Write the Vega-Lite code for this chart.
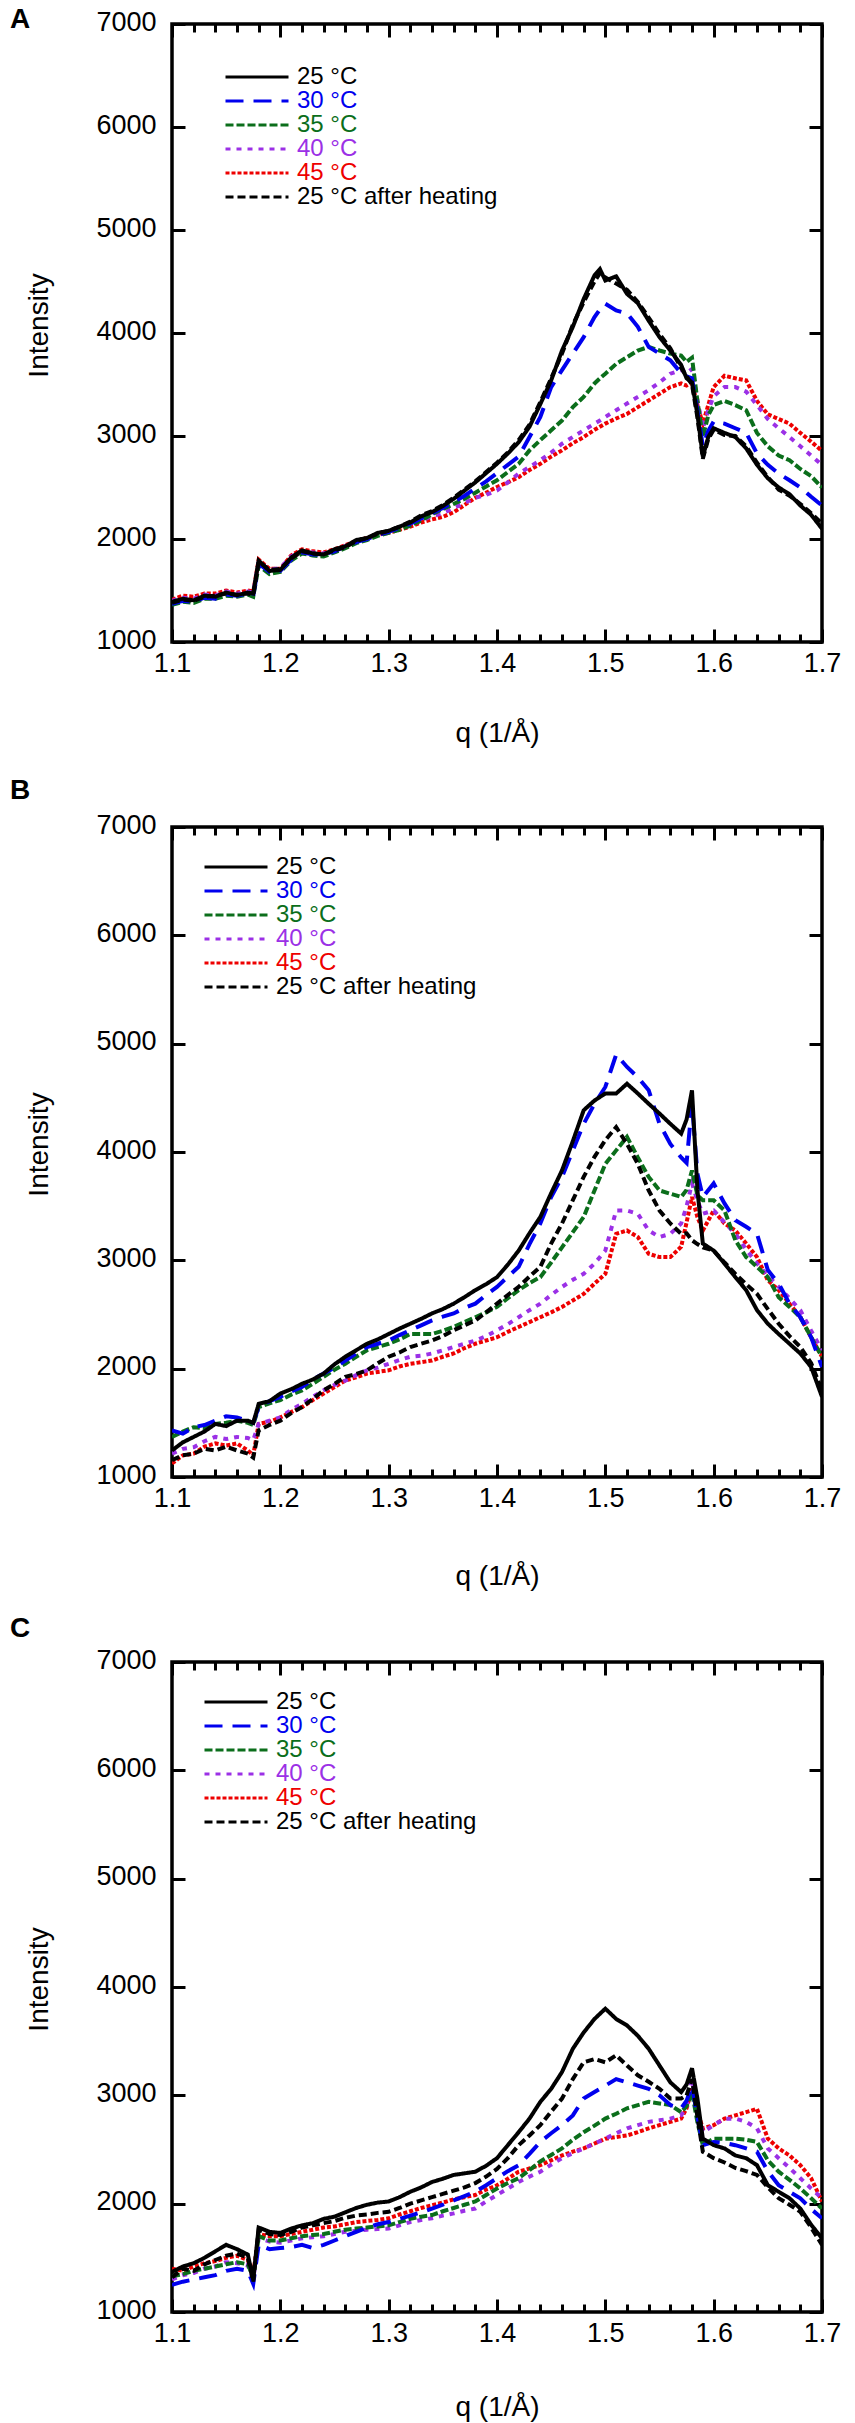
{
  "$schema": "https://vega.github.io/schema/vega-lite/v6.json",
  "padding": {"top": 4, "left": 8, "right": 0, "bottom": 0},
  "config": {
    "font": "Liberation Sans",
    "view": {"stroke": "black", "strokeWidth": 3.5},
    "axis": {
      "grid": false,
      "domain": false,
      "tickColor": "black",
      "tickWidth": 3,
      "labelFont": "Liberation Sans",
      "labelFontSize": 27,
      "labelColor": "black",
      "labelFlush": false,
      "labelOverlap": false,
      "titleFont": "Liberation Sans",
      "titleFontSize": 28,
      "titleFontWeight": "normal",
      "titleColor": "black"
    },
    "title": {"font": "Liberation Sans", "fontSize": 28, "fontWeight": "bold", "anchor": "start", "frame": "group", "baseline": "alphabetic", "color": "black"}
  },
  "datasets": {
    "A": [
      {"q":1.10,"T25":1390,"T30":1370,"T35":1360,"T40":1400,"T45":1410,"T25h":1380},
      {"q":1.11,"T25":1420,"T30":1400,"T35":1390,"T40":1430,"T45":1450,"T25h":1410},
      {"q":1.12,"T25":1405,"T30":1390,"T35":1380,"T40":1420,"T45":1440,"T25h":1400},
      {"q":1.13,"T25":1450,"T30":1430,"T35":1420,"T40":1460,"T45":1470,"T25h":1440},
      {"q":1.14,"T25":1440,"T30":1420,"T35":1420,"T40":1450,"T45":1470,"T25h":1450},
      {"q":1.15,"T25":1480,"T30":1460,"T35":1450,"T40":1490,"T45":1500,"T25h":1470},
      {"q":1.16,"T25":1455,"T30":1450,"T35":1440,"T40":1470,"T45":1480,"T25h":1460},
      {"q":1.17,"T25":1480,"T30":1470,"T35":1460,"T40":1490,"T45":1500,"T25h":1470},
      {"q":1.175,"T25":1470,"T30":1450,"T35":1440,"T40":1480,"T45":1490,"T25h":1460},
      {"q":1.18,"T25":1790,"T30":1760,"T35":1740,"T40":1780,"T45":1800,"T25h":1780},
      {"q":1.19,"T25":1690,"T30":1680,"T35":1660,"T40":1700,"T45":1710,"T25h":1700},
      {"q":1.20,"T25":1700,"T30":1690,"T35":1680,"T40":1720,"T45":1710,"T25h":1710},
      {"q":1.21,"T25":1820,"T30":1800,"T35":1790,"T40":1830,"T45":1840,"T25h":1810},
      {"q":1.22,"T25":1890,"T30":1870,"T35":1860,"T40":1880,"T45":1900,"T25h":1880},
      {"q":1.23,"T25":1860,"T30":1850,"T35":1840,"T40":1870,"T45":1880,"T25h":1860},
      {"q":1.24,"T25":1850,"T30":1850,"T35":1830,"T40":1860,"T45":1870,"T25h":1850},
      {"q":1.25,"T25":1900,"T30":1880,"T35":1870,"T40":1890,"T45":1900,"T25h":1890},
      {"q":1.26,"T25":1930,"T30":1930,"T35":1910,"T40":1930,"T45":1940,"T25h":1920},
      {"q":1.27,"T25":1990,"T30":1970,"T35":1960,"T40":1980,"T45":1980,"T25h":1980},
      {"q":1.28,"T25":2010,"T30":2000,"T35":1990,"T40":2000,"T45":2010,"T25h":2010},
      {"q":1.29,"T25":2060,"T30":2040,"T35":2030,"T40":2040,"T45":2040,"T25h":2050},
      {"q":1.30,"T25":2080,"T30":2070,"T35":2060,"T40":2060,"T45":2060,"T25h":2080},
      {"q":1.31,"T25":2120,"T30":2110,"T35":2090,"T40":2100,"T45":2090,"T25h":2120},
      {"q":1.32,"T25":2160,"T30":2150,"T35":2130,"T40":2130,"T45":2120,"T25h":2170},
      {"q":1.33,"T25":2220,"T30":2200,"T35":2180,"T40":2180,"T45":2160,"T25h":2230},
      {"q":1.34,"T25":2260,"T30":2250,"T35":2240,"T40":2220,"T45":2190,"T25h":2270},
      {"q":1.35,"T25":2320,"T30":2300,"T35":2290,"T40":2250,"T45":2215,"T25h":2330},
      {"q":1.36,"T25":2390,"T30":2360,"T35":2340,"T40":2300,"T45":2260,"T25h":2400},
      {"q":1.37,"T25":2470,"T30":2420,"T35":2390,"T40":2350,"T45":2330,"T25h":2480},
      {"q":1.38,"T25":2550,"T30":2490,"T35":2450,"T40":2400,"T45":2400,"T25h":2560},
      {"q":1.39,"T25":2640,"T30":2560,"T35":2510,"T40":2430,"T45":2450,"T25h":2650},
      {"q":1.40,"T25":2730,"T30":2640,"T35":2570,"T40":2470,"T45":2505,"T25h":2740},
      {"q":1.41,"T25":2830,"T30":2720,"T35":2650,"T40":2550,"T45":2550,"T25h":2840},
      {"q":1.42,"T25":2940,"T30":2800,"T35":2730,"T40":2635,"T45":2600,"T25h":2960},
      {"q":1.43,"T25":3090,"T30":2990,"T35":2860,"T40":2700,"T45":2670,"T25h":3110},
      {"q":1.44,"T25":3310,"T30":3185,"T35":2960,"T40":2765,"T45":2730,"T25h":3330},
      {"q":1.45,"T25":3540,"T30":3475,"T35":3055,"T40":2840,"T45":2800,"T25h":3560},
      {"q":1.46,"T25":3830,"T30":3640,"T35":3150,"T40":2925,"T45":2860,"T25h":3800},
      {"q":1.47,"T25":4060,"T30":3800,"T35":3280,"T40":2990,"T45":2930,"T25h":4080},
      {"q":1.48,"T25":4330,"T30":3960,"T35":3380,"T40":3055,"T45":2990,"T25h":4300},
      {"q":1.49,"T25":4560,"T30":4155,"T35":3510,"T40":3120,"T45":3060,"T25h":4500},
      {"q":1.495,"T25":4620,"T30":4230,"T35":3560,"T40":3150,"T45":3090,"T25h":4580},
      {"q":1.50,"T25":4510,"T30":4285,"T35":3605,"T40":3185,"T45":3120,"T25h":4540},
      {"q":1.51,"T25":4550,"T30":4220,"T35":3700,"T40":3250,"T45":3170,"T25h":4480},
      {"q":1.52,"T25":4380,"T30":4190,"T35":3765,"T40":3315,"T45":3215,"T25h":4420},
      {"q":1.53,"T25":4290,"T30":4060,"T35":3830,"T40":3380,"T45":3280,"T25h":4300},
      {"q":1.54,"T25":4120,"T30":3865,"T35":3865,"T40":3445,"T45":3345,"T25h":4150},
      {"q":1.55,"T25":3960,"T30":3800,"T35":3830,"T40":3520,"T45":3410,"T25h":3990},
      {"q":1.56,"T25":3830,"T30":3735,"T35":3800,"T40":3605,"T45":3475,"T25h":3850},
      {"q":1.57,"T25":3690,"T30":3610,"T35":3780,"T40":3640,"T45":3510,"T25h":3660},
      {"q":1.575,"T25":3560,"T30":3580,"T35":3720,"T40":3610,"T45":3490,"T25h":3580},
      {"q":1.58,"T25":3520,"T30":3560,"T35":3760,"T40":3650,"T45":3520,"T25h":3500},
      {"q":1.585,"T25":3210,"T30":3250,"T35":3340,"T40":3350,"T45":3300,"T25h":3180},
      {"q":1.59,"T25":2800,"T30":2900,"T35":2990,"T40":3075,"T45":3120,"T25h":2780},
      {"q":1.595,"T25":2990,"T30":3050,"T35":3200,"T40":3250,"T45":3300,"T25h":2970},
      {"q":1.60,"T25":3075,"T30":3140,"T35":3300,"T40":3385,"T45":3475,"T25h":3060},
      {"q":1.61,"T25":3030,"T30":3120,"T35":3340,"T40":3475,"T45":3585,"T25h":3010},
      {"q":1.62,"T25":2990,"T30":3075,"T35":3300,"T40":3475,"T45":3560,"T25h":3000},
      {"q":1.63,"T25":2880,"T30":3030,"T35":3250,"T40":3430,"T45":3540,"T25h":2900},
      {"q":1.64,"T25":2720,"T30":2830,"T35":3030,"T40":3300,"T45":3340,"T25h":2740},
      {"q":1.65,"T25":2590,"T30":2720,"T35":2900,"T40":3165,"T45":3210,"T25h":2600},
      {"q":1.66,"T25":2500,"T30":2635,"T35":2810,"T40":3075,"T45":3165,"T25h":2480},
      {"q":1.67,"T25":2435,"T30":2570,"T35":2765,"T40":2990,"T45":3120,"T25h":2420},
      {"q":1.68,"T25":2325,"T30":2500,"T35":2680,"T40":2900,"T45":3030,"T25h":2340},
      {"q":1.69,"T25":2235,"T30":2410,"T35":2610,"T40":2810,"T45":2945,"T25h":2250},
      {"q":1.70,"T25":2100,"T30":2325,"T35":2500,"T40":2720,"T45":2855,"T25h":2150}
    ],
    "B": [
      {"q":1.10,"T25":1245,"T30":1430,"T35":1370,"T40":1215,"T45":1125,"T25h":1155},
      {"q":1.11,"T25":1320,"T30":1400,"T35":1420,"T40":1260,"T45":1200,"T25h":1200},
      {"q":1.12,"T25":1370,"T30":1460,"T35":1460,"T40":1275,"T45":1215,"T25h":1215},
      {"q":1.13,"T25":1420,"T30":1480,"T35":1450,"T40":1330,"T45":1280,"T25h":1260},
      {"q":1.14,"T25":1490,"T30":1520,"T35":1490,"T40":1370,"T45":1310,"T25h":1245},
      {"q":1.15,"T25":1470,"T30":1560,"T35":1500,"T40":1350,"T45":1290,"T25h":1280},
      {"q":1.16,"T25":1520,"T30":1550,"T35":1520,"T40":1370,"T45":1310,"T25h":1245},
      {"q":1.17,"T25":1520,"T30":1520,"T35":1500,"T40":1360,"T45":1245,"T25h":1215},
      {"q":1.175,"T25":1500,"T30":1500,"T35":1480,"T40":1340,"T45":1200,"T25h":1180},
      {"q":1.18,"T25":1675,"T30":1645,"T35":1645,"T40":1490,"T45":1490,"T25h":1430},
      {"q":1.19,"T25":1700,"T30":1700,"T35":1680,"T40":1520,"T45":1510,"T25h":1480},
      {"q":1.20,"T25":1770,"T30":1740,"T35":1710,"T40":1550,"T45":1550,"T25h":1520},
      {"q":1.21,"T25":1810,"T30":1790,"T35":1760,"T40":1620,"T45":1600,"T25h":1590},
      {"q":1.22,"T25":1860,"T30":1830,"T35":1800,"T40":1675,"T45":1645,"T25h":1645},
      {"q":1.23,"T25":1900,"T30":1900,"T35":1860,"T40":1740,"T45":1710,"T25h":1720},
      {"q":1.24,"T25":1955,"T30":1955,"T35":1925,"T40":1800,"T45":1770,"T25h":1800},
      {"q":1.25,"T25":2040,"T30":2010,"T35":1990,"T40":1850,"T45":1830,"T25h":1860},
      {"q":1.26,"T25":2110,"T30":2075,"T35":2045,"T40":1890,"T45":1890,"T25h":1925},
      {"q":1.27,"T25":2170,"T30":2140,"T35":2110,"T40":1940,"T45":1920,"T25h":1950},
      {"q":1.28,"T25":2230,"T30":2200,"T35":2170,"T40":1985,"T45":1955,"T25h":1985},
      {"q":1.29,"T25":2270,"T30":2230,"T35":2200,"T40":2010,"T45":1970,"T25h":2050},
      {"q":1.30,"T25":2320,"T30":2260,"T35":2230,"T40":2045,"T45":1985,"T25h":2110},
      {"q":1.31,"T25":2370,"T30":2310,"T35":2270,"T40":2080,"T45":2020,"T25h":2150},
      {"q":1.32,"T25":2415,"T30":2355,"T35":2320,"T40":2110,"T45":2045,"T25h":2200},
      {"q":1.33,"T25":2460,"T30":2400,"T35":2320,"T40":2120,"T45":2060,"T25h":2230},
      {"q":1.34,"T25":2510,"T30":2445,"T35":2320,"T40":2140,"T45":2075,"T25h":2260},
      {"q":1.35,"T25":2550,"T30":2480,"T35":2350,"T40":2170,"T45":2110,"T25h":2300},
      {"q":1.36,"T25":2600,"T30":2510,"T35":2385,"T40":2200,"T45":2140,"T25h":2355},
      {"q":1.37,"T25":2660,"T30":2560,"T35":2430,"T40":2230,"T45":2190,"T25h":2400},
      {"q":1.38,"T25":2725,"T30":2600,"T35":2475,"T40":2260,"T45":2230,"T25h":2445},
      {"q":1.39,"T25":2780,"T30":2680,"T35":2520,"T40":2300,"T45":2260,"T25h":2520},
      {"q":1.40,"T25":2845,"T30":2755,"T35":2570,"T40":2355,"T45":2290,"T25h":2600},
      {"q":1.41,"T25":2960,"T30":2850,"T35":2650,"T40":2410,"T45":2340,"T25h":2680},
      {"q":1.42,"T25":3090,"T30":2940,"T35":2725,"T40":2475,"T45":2385,"T25h":2755},
      {"q":1.43,"T25":3250,"T30":3150,"T35":2790,"T40":2540,"T45":2430,"T25h":2850},
      {"q":1.44,"T25":3400,"T30":3340,"T35":2845,"T40":2600,"T45":2475,"T25h":2940},
      {"q":1.45,"T25":3620,"T30":3585,"T35":2980,"T40":2680,"T45":2520,"T25h":3155},
      {"q":1.46,"T25":3830,"T30":3770,"T35":3120,"T40":2755,"T45":2570,"T25h":3340},
      {"q":1.47,"T25":4100,"T30":4015,"T35":3260,"T40":2820,"T45":2630,"T25h":3555},
      {"q":1.48,"T25":4385,"T30":4260,"T35":3400,"T40":2875,"T45":2690,"T25h":3770},
      {"q":1.49,"T25":4475,"T30":4445,"T35":3645,"T40":2970,"T45":2785,"T25h":3955},
      {"q":1.50,"T25":4540,"T30":4600,"T35":3890,"T40":3090,"T45":2875,"T25h":4110},
      {"q":1.51,"T25":4540,"T30":4900,"T35":4015,"T40":3460,"T45":3245,"T25h":4230},
      {"q":1.52,"T25":4630,"T30":4785,"T35":4140,"T40":3460,"T45":3275,"T25h":4075},
      {"q":1.53,"T25":4540,"T30":4690,"T35":3950,"T40":3430,"T45":3215,"T25h":3890},
      {"q":1.54,"T25":4445,"T30":4570,"T35":3770,"T40":3275,"T45":3060,"T25h":3645},
      {"q":1.55,"T25":4355,"T30":4260,"T35":3645,"T40":3215,"T45":3030,"T25h":3460},
      {"q":1.56,"T25":4260,"T30":4075,"T35":3615,"T40":3245,"T45":3030,"T25h":3340},
      {"q":1.57,"T25":4170,"T30":3950,"T35":3585,"T40":3340,"T45":3125,"T25h":3245},
      {"q":1.575,"T25":4300,"T30":3900,"T35":3650,"T40":3500,"T45":3350,"T25h":3250},
      {"q":1.58,"T25":4570,"T30":4445,"T35":3830,"T40":3710,"T45":3585,"T25h":3185},
      {"q":1.585,"T25":3650,"T30":3800,"T35":3600,"T40":3550,"T45":3400,"T25h":3150},
      {"q":1.59,"T25":3155,"T30":3585,"T35":3555,"T40":3430,"T45":3275,"T25h":3120},
      {"q":1.60,"T25":3090,"T30":3710,"T35":3555,"T40":3460,"T45":3460,"T25h":3090},
      {"q":1.61,"T25":2970,"T30":3525,"T35":3460,"T40":3350,"T45":3340,"T25h":2980},
      {"q":1.62,"T25":2845,"T30":3370,"T35":3185,"T40":3245,"T45":3275,"T25h":2875},
      {"q":1.63,"T25":2725,"T30":3310,"T35":3030,"T40":3100,"T45":3155,"T25h":2780},
      {"q":1.64,"T25":2540,"T30":3245,"T35":2940,"T40":2970,"T45":3030,"T25h":2690},
      {"q":1.65,"T25":2415,"T30":2910,"T35":2845,"T40":2860,"T45":2815,"T25h":2550},
      {"q":1.66,"T25":2320,"T30":2785,"T35":2660,"T40":2755,"T45":2725,"T25h":2415},
      {"q":1.67,"T25":2230,"T30":2600,"T35":2570,"T40":2650,"T45":2600,"T25h":2300},
      {"q":1.68,"T25":2140,"T30":2475,"T35":2475,"T40":2540,"T45":2475,"T25h":2200},
      {"q":1.69,"T25":2015,"T30":2290,"T35":2290,"T40":2350,"T45":2290,"T25h":2050},
      {"q":1.70,"T25":1740,"T30":2015,"T35":2110,"T40":2170,"T45":2110,"T25h":1800}
    ],
    "C": [
      {"q":1.10,"T25":1370,"T30":1250,"T35":1330,"T40":1300,"T45":1400,"T25h":1320},
      {"q":1.11,"T25":1420,"T30":1280,"T35":1350,"T40":1340,"T45":1380,"T25h":1400},
      {"q":1.12,"T25":1450,"T30":1300,"T35":1380,"T40":1360,"T45":1420,"T25h":1380},
      {"q":1.13,"T25":1500,"T30":1320,"T35":1400,"T40":1400,"T45":1450,"T25h":1440},
      {"q":1.14,"T25":1560,"T30":1340,"T35":1420,"T40":1420,"T45":1470,"T25h":1480},
      {"q":1.15,"T25":1620,"T30":1380,"T35":1440,"T40":1460,"T45":1500,"T25h":1520},
      {"q":1.16,"T25":1580,"T30":1400,"T35":1460,"T40":1450,"T45":1520,"T25h":1540},
      {"q":1.17,"T25":1530,"T30":1380,"T35":1440,"T40":1430,"T45":1480,"T25h":1500},
      {"q":1.175,"T25":1300,"T30":1260,"T35":1320,"T40":1300,"T45":1350,"T25h":1280},
      {"q":1.18,"T25":1780,"T30":1620,"T35":1700,"T40":1680,"T45":1720,"T25h":1760},
      {"q":1.19,"T25":1740,"T30":1580,"T35":1660,"T40":1650,"T45":1700,"T25h":1720},
      {"q":1.20,"T25":1730,"T30":1590,"T35":1660,"T40":1640,"T45":1700,"T25h":1710},
      {"q":1.21,"T25":1770,"T30":1600,"T35":1680,"T40":1660,"T45":1720,"T25h":1740},
      {"q":1.22,"T25":1800,"T30":1620,"T35":1700,"T40":1680,"T45":1740,"T25h":1780},
      {"q":1.23,"T25":1820,"T30":1590,"T35":1710,"T40":1690,"T45":1760,"T25h":1800},
      {"q":1.24,"T25":1860,"T30":1620,"T35":1720,"T40":1700,"T45":1780,"T25h":1820},
      {"q":1.25,"T25":1880,"T30":1660,"T35":1740,"T40":1720,"T45":1790,"T25h":1840},
      {"q":1.26,"T25":1920,"T30":1700,"T35":1760,"T40":1740,"T45":1810,"T25h":1870},
      {"q":1.27,"T25":1960,"T30":1740,"T35":1770,"T40":1750,"T45":1830,"T25h":1890},
      {"q":1.28,"T25":1990,"T30":1780,"T35":1780,"T40":1760,"T45":1840,"T25h":1900},
      {"q":1.29,"T25":2010,"T30":1810,"T35":1790,"T40":1765,"T45":1850,"T25h":1915},
      {"q":1.30,"T25":2020,"T30":1830,"T35":1800,"T40":1770,"T45":1865,"T25h":1925},
      {"q":1.31,"T25":2060,"T30":1860,"T35":1830,"T40":1800,"T45":1900,"T25h":1960},
      {"q":1.32,"T25":2110,"T30":1890,"T35":1860,"T40":1830,"T45":1930,"T25h":2000},
      {"q":1.33,"T25":2150,"T30":1920,"T35":1880,"T40":1850,"T45":1960,"T25h":2030},
      {"q":1.34,"T25":2200,"T30":1955,"T35":1895,"T40":1865,"T45":1985,"T25h":2060},
      {"q":1.35,"T25":2230,"T30":1990,"T35":1930,"T40":1890,"T45":2010,"T25h":2090},
      {"q":1.36,"T25":2265,"T30":2030,"T35":1960,"T40":1910,"T45":2040,"T25h":2120},
      {"q":1.37,"T25":2280,"T30":2070,"T35":1990,"T40":1935,"T45":2060,"T25h":2150},
      {"q":1.38,"T25":2295,"T30":2110,"T35":2020,"T40":1955,"T45":2080,"T25h":2190},
      {"q":1.39,"T25":2350,"T30":2170,"T35":2080,"T40":2020,"T45":2130,"T25h":2250},
      {"q":1.40,"T25":2420,"T30":2235,"T35":2140,"T40":2080,"T45":2170,"T25h":2320},
      {"q":1.41,"T25":2540,"T30":2300,"T35":2190,"T40":2140,"T45":2230,"T25h":2420},
      {"q":1.42,"T25":2660,"T30":2355,"T35":2235,"T40":2200,"T45":2295,"T25h":2540},
      {"q":1.43,"T25":2785,"T30":2460,"T35":2310,"T40":2250,"T45":2325,"T25h":2630},
      {"q":1.44,"T25":2940,"T30":2570,"T35":2390,"T40":2295,"T45":2355,"T25h":2725},
      {"q":1.45,"T25":3060,"T30":2650,"T35":2450,"T40":2360,"T45":2400,"T25h":2850},
      {"q":1.46,"T25":3215,"T30":2725,"T35":2510,"T40":2420,"T45":2445,"T25h":2970},
      {"q":1.47,"T25":3430,"T30":2815,"T35":2590,"T40":2465,"T45":2480,"T25h":3150},
      {"q":1.48,"T25":3580,"T30":2970,"T35":2660,"T40":2510,"T45":2510,"T25h":3305},
      {"q":1.49,"T25":3705,"T30":3030,"T35":2720,"T40":2555,"T45":2555,"T25h":3335},
      {"q":1.50,"T25":3800,"T30":3090,"T35":2785,"T40":2600,"T45":2600,"T25h":3305},
      {"q":1.51,"T25":3705,"T30":3150,"T35":2830,"T40":2650,"T45":2615,"T25h":3370},
      {"q":1.52,"T25":3645,"T30":3120,"T35":2880,"T40":2695,"T45":2630,"T25h":3275},
      {"q":1.53,"T25":3550,"T30":3090,"T35":2910,"T40":2725,"T45":2660,"T25h":3185},
      {"q":1.54,"T25":3430,"T30":3060,"T35":2940,"T40":2755,"T45":2695,"T25h":3125},
      {"q":1.55,"T25":3275,"T30":3000,"T35":2925,"T40":2770,"T45":2725,"T25h":3060},
      {"q":1.56,"T25":3120,"T30":2910,"T35":2910,"T40":2785,"T45":2755,"T25h":2970},
      {"q":1.57,"T25":3030,"T30":2880,"T35":2845,"T40":2815,"T45":2785,"T25h":2970},
      {"q":1.575,"T25":3100,"T30":2950,"T35":2900,"T40":2900,"T45":2880,"T25h":3000},
      {"q":1.58,"T25":3250,"T30":3090,"T35":3030,"T40":3150,"T45":3060,"T25h":3150},
      {"q":1.585,"T25":2970,"T30":2800,"T35":2750,"T40":2850,"T45":2850,"T25h":2800},
      {"q":1.59,"T25":2600,"T30":2540,"T35":2540,"T40":2660,"T45":2695,"T25h":2480},
      {"q":1.60,"T25":2540,"T30":2570,"T35":2600,"T40":2725,"T45":2725,"T25h":2420},
      {"q":1.61,"T25":2510,"T30":2560,"T35":2600,"T40":2785,"T45":2785,"T25h":2380},
      {"q":1.62,"T25":2445,"T30":2540,"T35":2600,"T40":2785,"T45":2815,"T25h":2330},
      {"q":1.63,"T25":2420,"T30":2510,"T35":2590,"T40":2755,"T45":2845,"T25h":2300},
      {"q":1.64,"T25":2355,"T30":2480,"T35":2570,"T40":2695,"T45":2875,"T25h":2265},
      {"q":1.65,"T25":2170,"T30":2300,"T35":2400,"T40":2510,"T45":2600,"T25h":2150},
      {"q":1.66,"T25":2110,"T30":2170,"T35":2295,"T40":2420,"T45":2510,"T25h":2050},
      {"q":1.67,"T25":2050,"T30":2110,"T35":2220,"T40":2330,"T45":2445,"T25h":1990},
      {"q":1.68,"T25":1955,"T30":2050,"T35":2140,"T40":2235,"T45":2355,"T25h":1925},
      {"q":1.69,"T25":1805,"T30":1950,"T35":2050,"T40":2140,"T45":2235,"T25h":1780},
      {"q":1.70,"T25":1680,"T30":1865,"T35":1955,"T40":2050,"T45":2020,"T25h":1620}
    ]
  },
  "resolve": {
    "scale": {"x": "independent", "y": "independent", "color": "independent", "strokeDash": "independent"},
    "legend": {"color": "independent", "strokeDash": "independent"}
  },
  "spacing": 185,
  "bounds": "flush",
  "vconcat": [
    {
      "width": 650,
      "height": 618,
      "data": {"name": "A"},
      "title": {"text": "A", "dx": -162, "offset": -26},
      "transform": [{"fold": ["T45", "T40", "T35", "T30", "T25h", "T25"], "as": ["series", "I"]}],
      "layer": [
        {
          "mark": {"type": "line", "strokeWidth": 4, "clip": true},
          "encoding": {
            "x": {
              "field": "q", "type": "quantitative", "title": "q (1/Å)",
              "scale": {"domain": [1.1, 1.7], "nice": false, "zero": false},
              "axis": {
                "orient": "bottom",
                "values": [1.1,1.12,1.14,1.16,1.18,1.2,1.22,1.24,1.26,1.28,1.3,1.32,1.34,1.36,1.38,1.4,1.42,1.44,1.46,1.48,1.5,1.52,1.54,1.56,1.58,1.6,1.62,1.64,1.66,1.68,1.7],
                "tickSize": {"condition": {"test": "abs(datum.value*10 - round(datum.value*10)) < 0.001", "value": -13}, "value": -8},
                "labelExpr": "abs(datum.value*10 - round(datum.value*10)) < 0.001 ? format(datum.value, '.1f') : ''",
                "labelPadding": 42, "labelBaseline": "alphabetic",
                "titleY": 99, "titleBaseline": "alphabetic"
              }
            },
            "y": {
              "field": "I", "type": "quantitative", "title": "Intensity",
              "scale": {"domain": [1000, 7000], "nice": false, "zero": false},
              "axis": {
                "orient": "left",
                "values": [1000, 2000, 3000, 4000, 5000, 6000, 7000],
                "format": "d", "tickSize": -13, "labelPadding": 29, "labelOffset": -2,
                "titleX": -125, "titleY": 301, "titleAngle": 270, "titleAlign": "center", "titleBaseline": "alphabetic"
              }
            },
            "color": {
              "field": "series", "type": "nominal",
              "scale": {"domain": ["T25", "T30", "T35", "T40", "T45", "T25h"], "range": ["#000000", "#0000ee", "#0b6e1b", "#9b30e6", "#ee0000", "#000000"]},
              "legend": {
                "title": null, "orient": "none", "legendX": 73, "legendY": 41, "direction": "vertical",
                "symbolType": "M-3,0H3", "symbolSize": 441, "symbolStrokeWidth": 3,
                "labelOffset": 28, "labelFontSize": 24, "labelFont": "Liberation Sans", "labelLimit": 400, "rowPadding": 0, "padding": 0,
                "labelExpr": "datum.value === 'T25' ? '25 °C' : datum.value === 'T30' ? '30 °C' : datum.value === 'T35' ? '35 °C' : datum.value === 'T40' ? '40 °C' : datum.value === 'T45' ? '45 °C' : '25 °C after heating'",
                "encode": {"labels": {"update": {"fill": {"signal": "datum.value === 'T30' ? '#0000ee' : datum.value === 'T35' ? '#0b6e1b' : datum.value === 'T40' ? '#9b30e6' : datum.value === 'T45' ? '#ee0000' : '#000000'"}}}}
              }
            },
            "strokeDash": {
              "field": "series", "type": "nominal",
              "scale": {"domain": ["T25", "T30", "T35", "T40", "T45", "T25h"], "range": [[1, 0], [18, 10], [8, 3], [5, 6], [4, 2], [8, 4]]},
              "legend": {
                "title": null, "orient": "none", "legendX": 73, "legendY": 41, "direction": "vertical",
                "symbolType": "M-3,0H3", "symbolSize": 441, "symbolStrokeWidth": 3,
                "labelOffset": 28, "labelFontSize": 24, "labelFont": "Liberation Sans", "labelLimit": 400, "rowPadding": 0, "padding": 0,
                "labelExpr": "datum.value === 'T25' ? '25 °C' : datum.value === 'T30' ? '30 °C' : datum.value === 'T35' ? '35 °C' : datum.value === 'T40' ? '40 °C' : datum.value === 'T45' ? '45 °C' : '25 °C after heating'",
                "encode": {"labels": {"update": {"fill": {"signal": "datum.value === 'T30' ? '#0000ee' : datum.value === 'T35' ? '#0b6e1b' : datum.value === 'T40' ? '#9b30e6' : datum.value === 'T45' ? '#ee0000' : '#000000'"}}}}
              }
            }
          }
        },
        {
          "transform": [{"filter": "false"}],
          "mark": "point",
          "encoding": {
            "x": {
              "field": "q", "type": "quantitative", "title": null,
              "scale": {"domain": [1.1, 1.7], "nice": false, "zero": false},
              "axis": {
                "orient": "top", "labels": false,
                "values": [1.1,1.12,1.14,1.16,1.18,1.2,1.22,1.24,1.26,1.28,1.3,1.32,1.34,1.36,1.38,1.4,1.42,1.44,1.46,1.48,1.5,1.52,1.54,1.56,1.58,1.6,1.62,1.64,1.66,1.68,1.7],
                "tickSize": {"condition": {"test": "abs(datum.value*10 - round(datum.value*10)) < 0.001", "value": -13}, "value": -8}
              }
            },
            "y": {
              "field": "I", "type": "quantitative", "title": null,
              "scale": {"domain": [1000, 7000], "nice": false, "zero": false},
              "axis": {"orient": "right", "labels": false, "values": [1000, 2000, 3000, 4000, 5000, 6000, 7000], "tickSize": -13}
            }
          }
        }
      ]
    },
    {
      "width": 650,
      "height": 650,
      "data": {"name": "B"},
      "title": {"text": "B", "dx": -162, "offset": 6},
      "transform": [{"fold": ["T45", "T40", "T35", "T30", "T25h", "T25"], "as": ["series", "I"]}],
      "layer": [
        {
          "mark": {"type": "line", "strokeWidth": 4, "clip": true},
          "encoding": {
            "x": {
              "field": "q", "type": "quantitative", "title": "q (1/Å)",
              "scale": {"domain": [1.1, 1.7], "nice": false, "zero": false},
              "axis": {
                "orient": "bottom",
                "values": [1.1,1.12,1.14,1.16,1.18,1.2,1.22,1.24,1.26,1.28,1.3,1.32,1.34,1.36,1.38,1.4,1.42,1.44,1.46,1.48,1.5,1.52,1.54,1.56,1.58,1.6,1.62,1.64,1.66,1.68,1.7],
                "tickSize": {"condition": {"test": "abs(datum.value*10 - round(datum.value*10)) < 0.001", "value": -13}, "value": -8},
                "labelExpr": "abs(datum.value*10 - round(datum.value*10)) < 0.001 ? format(datum.value, '.1f') : ''",
                "labelPadding": 42, "labelBaseline": "alphabetic",
                "titleY": 107, "titleBaseline": "alphabetic"
              }
            },
            "y": {
              "field": "I", "type": "quantitative", "title": "Intensity",
              "scale": {"domain": [1000, 7000], "nice": false, "zero": false},
              "axis": {
                "orient": "left",
                "values": [1000, 2000, 3000, 4000, 5000, 6000, 7000],
                "format": "d", "tickSize": -13, "labelPadding": 29, "labelOffset": -2,
                "titleX": -125, "titleY": 317, "titleAngle": 270, "titleAlign": "center", "titleBaseline": "alphabetic"
              }
            },
            "color": {
              "field": "series", "type": "nominal",
              "scale": {"domain": ["T25", "T30", "T35", "T40", "T45", "T25h"], "range": ["#000000", "#0000ee", "#0b6e1b", "#9b30e6", "#ee0000", "#000000"]},
              "legend": {
                "title": null, "orient": "none", "legendX": 52, "legendY": 28, "direction": "vertical",
                "symbolType": "M-3,0H3", "symbolSize": 441, "symbolStrokeWidth": 3,
                "labelOffset": 28, "labelFontSize": 24, "labelFont": "Liberation Sans", "labelLimit": 400, "rowPadding": 0, "padding": 0,
                "labelExpr": "datum.value === 'T25' ? '25 °C' : datum.value === 'T30' ? '30 °C' : datum.value === 'T35' ? '35 °C' : datum.value === 'T40' ? '40 °C' : datum.value === 'T45' ? '45 °C' : '25 °C after heating'",
                "encode": {"labels": {"update": {"fill": {"signal": "datum.value === 'T30' ? '#0000ee' : datum.value === 'T35' ? '#0b6e1b' : datum.value === 'T40' ? '#9b30e6' : datum.value === 'T45' ? '#ee0000' : '#000000'"}}}}
              }
            },
            "strokeDash": {
              "field": "series", "type": "nominal",
              "scale": {"domain": ["T25", "T30", "T35", "T40", "T45", "T25h"], "range": [[1, 0], [18, 10], [8, 3], [5, 6], [4, 2], [8, 4]]},
              "legend": {
                "title": null, "orient": "none", "legendX": 52, "legendY": 28, "direction": "vertical",
                "symbolType": "M-3,0H3", "symbolSize": 441, "symbolStrokeWidth": 3,
                "labelOffset": 28, "labelFontSize": 24, "labelFont": "Liberation Sans", "labelLimit": 400, "rowPadding": 0, "padding": 0,
                "labelExpr": "datum.value === 'T25' ? '25 °C' : datum.value === 'T30' ? '30 °C' : datum.value === 'T35' ? '35 °C' : datum.value === 'T40' ? '40 °C' : datum.value === 'T45' ? '45 °C' : '25 °C after heating'",
                "encode": {"labels": {"update": {"fill": {"signal": "datum.value === 'T30' ? '#0000ee' : datum.value === 'T35' ? '#0b6e1b' : datum.value === 'T40' ? '#9b30e6' : datum.value === 'T45' ? '#ee0000' : '#000000'"}}}}
              }
            }
          }
        },
        {
          "transform": [{"filter": "false"}],
          "mark": "point",
          "encoding": {
            "x": {
              "field": "q", "type": "quantitative", "title": null,
              "scale": {"domain": [1.1, 1.7], "nice": false, "zero": false},
              "axis": {
                "orient": "top", "labels": false,
                "values": [1.1,1.12,1.14,1.16,1.18,1.2,1.22,1.24,1.26,1.28,1.3,1.32,1.34,1.36,1.38,1.4,1.42,1.44,1.46,1.48,1.5,1.52,1.54,1.56,1.58,1.6,1.62,1.64,1.66,1.68,1.7],
                "tickSize": {"condition": {"test": "abs(datum.value*10 - round(datum.value*10)) < 0.001", "value": -13}, "value": -8}
              }
            },
            "y": {
              "field": "I", "type": "quantitative", "title": null,
              "scale": {"domain": [1000, 7000], "nice": false, "zero": false},
              "axis": {"orient": "right", "labels": false, "values": [1000, 2000, 3000, 4000, 5000, 6000, 7000], "tickSize": -13}
            }
          }
        }
      ]
    },
    {
      "width": 650,
      "height": 650,
      "data": {"name": "C"},
      "title": {"text": "C", "dx": -162, "offset": 3},
      "transform": [{"fold": ["T45", "T40", "T35", "T30", "T25h", "T25"], "as": ["series", "I"]}],
      "layer": [
        {
          "mark": {"type": "line", "strokeWidth": 4, "clip": true},
          "encoding": {
            "x": {
              "field": "q", "type": "quantitative", "title": "q (1/Å)",
              "scale": {"domain": [1.1, 1.7], "nice": false, "zero": false},
              "axis": {
                "orient": "bottom",
                "values": [1.1,1.12,1.14,1.16,1.18,1.2,1.22,1.24,1.26,1.28,1.3,1.32,1.34,1.36,1.38,1.4,1.42,1.44,1.46,1.48,1.5,1.52,1.54,1.56,1.58,1.6,1.62,1.64,1.66,1.68,1.7],
                "tickSize": {"condition": {"test": "abs(datum.value*10 - round(datum.value*10)) < 0.001", "value": -13}, "value": -8},
                "labelExpr": "abs(datum.value*10 - round(datum.value*10)) < 0.001 ? format(datum.value, '.1f') : ''",
                "labelPadding": 42, "labelBaseline": "alphabetic",
                "titleY": 103, "titleBaseline": "alphabetic"
              }
            },
            "y": {
              "field": "I", "type": "quantitative", "title": "Intensity",
              "scale": {"domain": [1000, 7000], "nice": false, "zero": false},
              "axis": {
                "orient": "left",
                "values": [1000, 2000, 3000, 4000, 5000, 6000, 7000],
                "format": "d", "tickSize": -13, "labelPadding": 29, "labelOffset": -2,
                "titleX": -125, "titleY": 317, "titleAngle": 270, "titleAlign": "center", "titleBaseline": "alphabetic"
              }
            },
            "color": {
              "field": "series", "type": "nominal",
              "scale": {"domain": ["T25", "T30", "T35", "T40", "T45", "T25h"], "range": ["#000000", "#0000ee", "#0b6e1b", "#9b30e6", "#ee0000", "#000000"]},
              "legend": {
                "title": null, "orient": "none", "legendX": 52, "legendY": 28, "direction": "vertical",
                "symbolType": "M-3,0H3", "symbolSize": 441, "symbolStrokeWidth": 3,
                "labelOffset": 28, "labelFontSize": 24, "labelFont": "Liberation Sans", "labelLimit": 400, "rowPadding": 0, "padding": 0,
                "labelExpr": "datum.value === 'T25' ? '25 °C' : datum.value === 'T30' ? '30 °C' : datum.value === 'T35' ? '35 °C' : datum.value === 'T40' ? '40 °C' : datum.value === 'T45' ? '45 °C' : '25 °C after heating'",
                "encode": {"labels": {"update": {"fill": {"signal": "datum.value === 'T30' ? '#0000ee' : datum.value === 'T35' ? '#0b6e1b' : datum.value === 'T40' ? '#9b30e6' : datum.value === 'T45' ? '#ee0000' : '#000000'"}}}}
              }
            },
            "strokeDash": {
              "field": "series", "type": "nominal",
              "scale": {"domain": ["T25", "T30", "T35", "T40", "T45", "T25h"], "range": [[1, 0], [18, 10], [8, 3], [5, 6], [4, 2], [8, 4]]},
              "legend": {
                "title": null, "orient": "none", "legendX": 52, "legendY": 28, "direction": "vertical",
                "symbolType": "M-3,0H3", "symbolSize": 441, "symbolStrokeWidth": 3,
                "labelOffset": 28, "labelFontSize": 24, "labelFont": "Liberation Sans", "labelLimit": 400, "rowPadding": 0, "padding": 0,
                "labelExpr": "datum.value === 'T25' ? '25 °C' : datum.value === 'T30' ? '30 °C' : datum.value === 'T35' ? '35 °C' : datum.value === 'T40' ? '40 °C' : datum.value === 'T45' ? '45 °C' : '25 °C after heating'",
                "encode": {"labels": {"update": {"fill": {"signal": "datum.value === 'T30' ? '#0000ee' : datum.value === 'T35' ? '#0b6e1b' : datum.value === 'T40' ? '#9b30e6' : datum.value === 'T45' ? '#ee0000' : '#000000'"}}}}
              }
            }
          }
        },
        {
          "transform": [{"filter": "false"}],
          "mark": "point",
          "encoding": {
            "x": {
              "field": "q", "type": "quantitative", "title": null,
              "scale": {"domain": [1.1, 1.7], "nice": false, "zero": false},
              "axis": {
                "orient": "top", "labels": false,
                "values": [1.1,1.12,1.14,1.16,1.18,1.2,1.22,1.24,1.26,1.28,1.3,1.32,1.34,1.36,1.38,1.4,1.42,1.44,1.46,1.48,1.5,1.52,1.54,1.56,1.58,1.6,1.62,1.64,1.66,1.68,1.7],
                "tickSize": {"condition": {"test": "abs(datum.value*10 - round(datum.value*10)) < 0.001", "value": -13}, "value": -8}
              }
            },
            "y": {
              "field": "I", "type": "quantitative", "title": null,
              "scale": {"domain": [1000, 7000], "nice": false, "zero": false},
              "axis": {"orient": "right", "labels": false, "values": [1000, 2000, 3000, 4000, 5000, 6000, 7000], "tickSize": -13}
            }
          }
        }
      ]
    }
  ]
}
